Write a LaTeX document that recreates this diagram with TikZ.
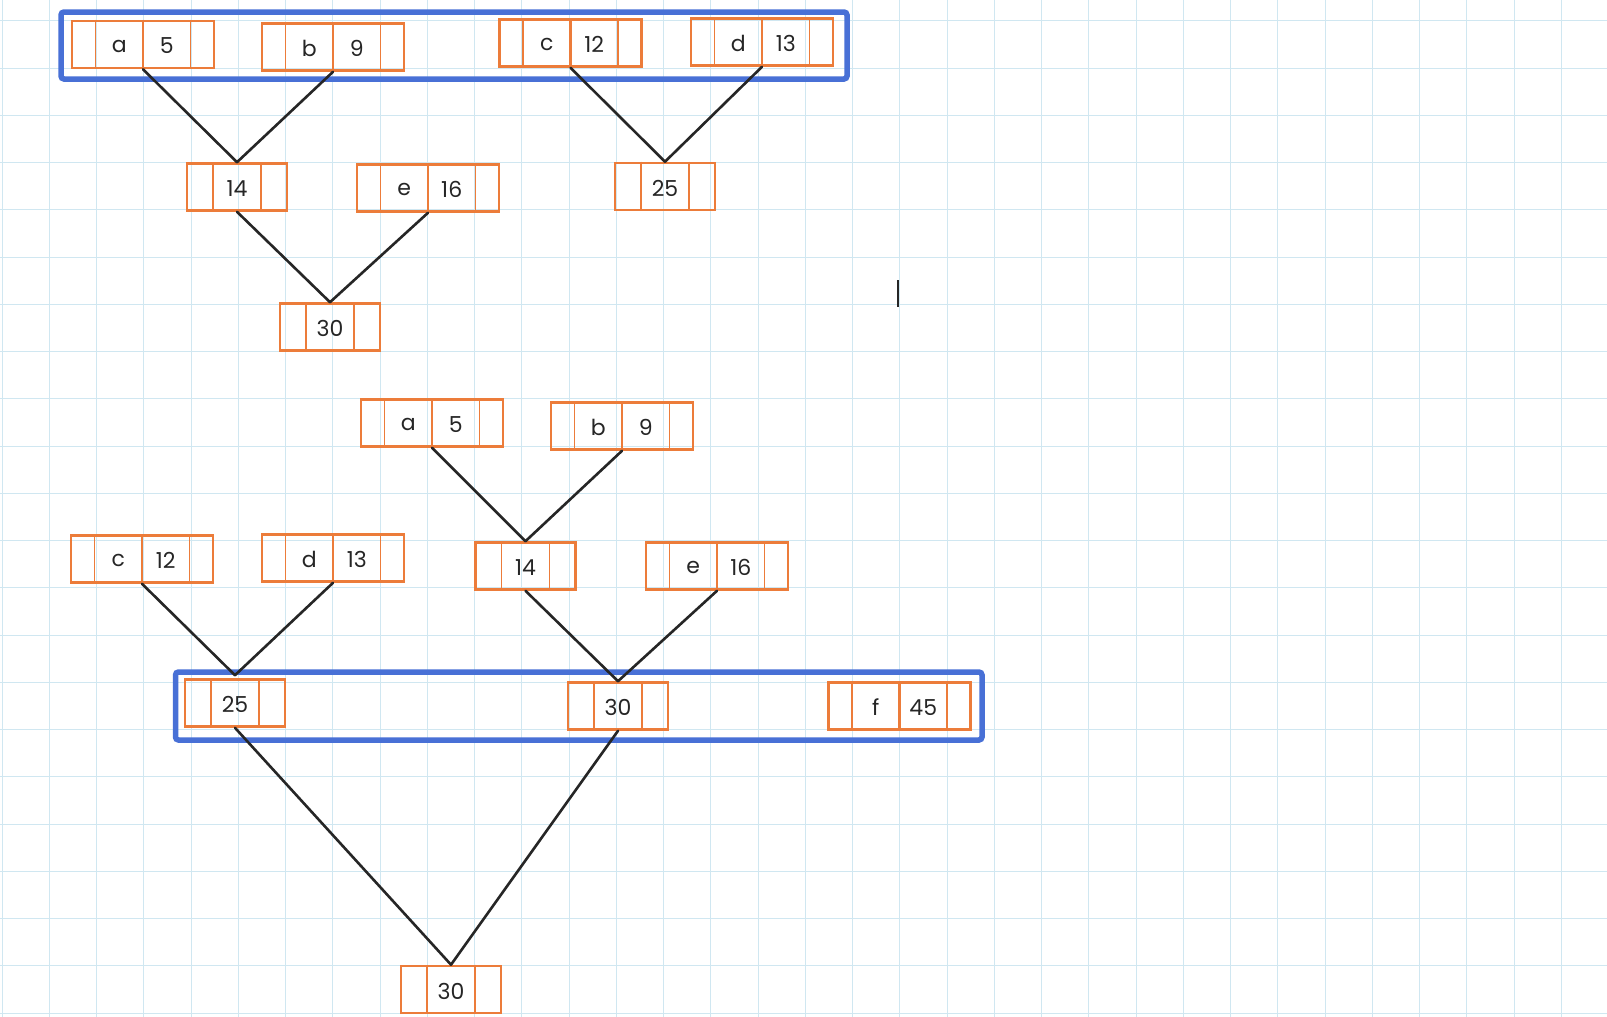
\documentclass[tikz,border=0pt]{standalone}
\usepackage{fontspec}
\setmainfont{Poppins}
\definecolor{gridc}{RGB}{208,231,241}
\definecolor{orng}{RGB}{236,124,58}
\definecolor{bluef}{RGB}{72,112,214}
\definecolor{ink}{RGB}{38,38,38}
\tikzset{
  obox/.style={draw=orng, line width=2.6pt, inner sep=0pt, minimum height=47pt, rectangle},
  odiv/.style={draw=orng, line width=1.8pt},
  omid/.style={draw=orng, line width=2.6pt},
  lbl/.style={inner sep=0pt, text=ink, font=\fontsize{22}{22}\selectfont},
  conn/.style={draw=ink, line width=2.6pt, line cap=round},
  frame/.style={draw=bluef, line width=5.5pt, rounded corners=3pt},
  gridln/.style={draw=gridc, line width=1.5pt}
}
\newcommand\hleaf[5]{%
  \node[obox, minimum width=142pt] (#1) at (#2,#3) {};
  \draw[odiv] ([xshift=-47.5pt]#1.north) -- ([xshift=-47.5pt]#1.south);
  \draw[omid] (#1.north) -- (#1.south);
  \draw[odiv] ([xshift=47.5pt]#1.north) -- ([xshift=47.5pt]#1.south);
  \node[lbl] (#1-l) at ([xshift=-23.75pt,yshift=-1.5pt]#1.center) {#4};
  \node[lbl] (#1-n) at ([xshift=23.75pt,yshift=-1.5pt]#1.center) {#5};
}
\newcommand\hsum[4]{%
  \node[obox, minimum width=100pt] (#1) at (#2,#3) {};
  \draw[odiv] ([xshift=-24pt]#1.north) -- ([xshift=-24pt]#1.south);
  \draw[odiv] ([xshift=24pt]#1.north) -- ([xshift=24pt]#1.south);
  \node[lbl] (#1-n) at ([yshift=-1.5pt]#1.center) {#4};
}
\begin{document}
\begin{tikzpicture}[x=1pt,y=-1pt]
\useasboundingbox (0,0) rectangle (1607,1017);
\fill[white] (0,0) rectangle (1607,1017);
% grid
\foreach \k [evaluate=\k as \gx using {round(1.5+47.25*\k)+0.5}] in {0,...,34} { \draw[gridln] (\gx,0) -- (\gx,1017); }
\foreach \k [evaluate=\k as \gy using {round(20.3+47.25*\k)+0.5}] in {0,...,21} { \draw[gridln] (0,\gy) -- (1607,\gy); }

% ---------- top tree ----------
\draw[frame] (61,12) rectangle (847,79);
\hleaf{A1}{143}{44.5}{a}{5}
\hleaf{B1}{333}{47}{b}{9}
\hleaf{C1}{570.5}{43}{c}{12}
\hleaf{D1}{762}{42}{d}{13}
\hsum{S14a}{237}{187}{14}
\hleaf{E1}{428}{188}{e}{16}
\hsum{S25a}{665}{186.5}{25}
\hsum{S30a}{330}{327}{30}

\draw[conn] (A1.south) -- (S14a.north);
\draw[conn] (B1.south) -- (S14a.north);
\draw[conn] (C1.south) -- (S25a.north);
\draw[conn] (D1.south) -- (S25a.north);
\draw[conn] (S14a.south) -- (S30a.north);
\draw[conn] (E1.south) -- (S30a.north);

% cursor
\coordinate (cur1) at (898,280);
\coordinate (cur2) at (898,307);
\draw[draw=black!85, line width=1.8pt] (cur1) -- (cur2);

% ---------- bottom tree ----------
\draw[frame] (175.5,672) rectangle (982,740);
\hleaf{A2}{432}{423}{a}{5}
\hleaf{B2}{622}{426}{b}{9}
\hleaf{C2}{142}{559}{c}{12}
\hleaf{D2}{333}{558}{d}{13}
\hsum{S14b}{525.5}{566}{14}
\hleaf{E2}{717}{566}{e}{16}
\hsum{S25b}{235}{703}{25}
\hsum{S30b}{618}{706}{30}
\hleaf{F2}{899.5}{706}{f}{45}
\hsum{S30c}{451}{989.5}{30}

\draw[conn] (A2.south) -- (S14b.north);
\draw[conn] (B2.south) -- (S14b.north);
\draw[conn] (C2.south) -- ([yshift=3pt]S25b.north);
\draw[conn] (D2.south) -- ([yshift=3pt]S25b.north);
\draw[conn] (S14b.south) -- (S30b.north);
\draw[conn] (E2.south) -- (S30b.north);
\draw[conn] (S25b.south) -- (S30c.north);
\draw[conn] (S30b.south) -- (S30c.north);
\end{tikzpicture}
\end{document}
